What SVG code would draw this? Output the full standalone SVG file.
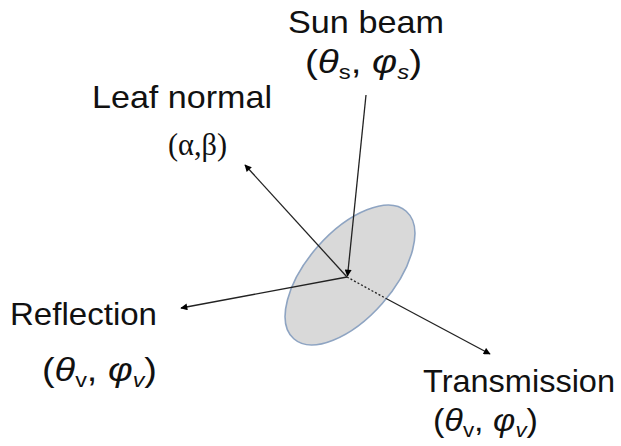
<svg xmlns="http://www.w3.org/2000/svg" width="621" height="446" viewBox="0 0 621 446">
<defs>
<marker id="ah" viewBox="0 0 10 10" refX="9" refY="5" markerWidth="8" markerHeight="7" markerUnits="userSpaceOnUse" orient="auto">
<path d="M0,0 L10,5 L0,10 z" fill="#000"/>
</marker>
</defs>
<style>
.lbl{font-family:"Liberation Sans",Arial,sans-serif;font-size:32px;fill:#111;}
.sym{font-family:"Liberation Sans",Arial,sans-serif;font-size:34px;fill:#111;}
.grk{font-family:"Liberation Serif","Times New Roman",serif;font-size:32px;fill:#111;}
.it{font-style:italic;}
.sub{font-size:21px;}
.ln{stroke:#222;stroke-width:1.3;fill:none;}
</style>
<g id="leaf">
<ellipse cx="350" cy="275" rx="85" ry="43" transform="rotate(-48.6 350 275)" fill="#d9d9d9" stroke="#8ea4c2" stroke-width="1.6"/>
</g>
<g id="connectors">
<line class="ln" x1="366" y1="95" x2="347.5" y2="276" marker-end="url(#ah)"/>
<line class="ln" x1="347" y1="277" x2="245" y2="165" marker-end="url(#ah)"/>
<line class="ln" x1="347" y1="277" x2="181" y2="308" marker-end="url(#ah)"/>
<line class="ln" x1="347" y1="277" x2="387" y2="299" stroke-dasharray="2 2"/>
<line class="ln" x1="387" y1="299" x2="490" y2="354" marker-end="url(#ah)"/>
</g>
<g id="sun">
<text class="lbl" x="288" y="33" textLength="156" lengthAdjust="spacingAndGlyphs">Sun beam</text>
<text class="sym" x="305" y="73" textLength="117" lengthAdjust="spacingAndGlyphs">(<tspan class="it">θ</tspan><tspan class="sub" dy="6">s</tspan><tspan dy="-6">, </tspan><tspan class="it">φ</tspan><tspan class="sub it" dy="6">s</tspan><tspan dy="-6">)</tspan></text>
</g>
<g id="normal">
<text class="lbl" x="92" y="108" textLength="180" lengthAdjust="spacingAndGlyphs">Leaf normal</text>
<text class="grk" x="168" y="155" textLength="59" lengthAdjust="spacingAndGlyphs">(α,β)</text>
</g>
<g id="reflection">
<text class="lbl" x="10" y="325" textLength="147" lengthAdjust="spacingAndGlyphs">Reflection</text>
<text class="sym" x="42" y="381" textLength="115" lengthAdjust="spacingAndGlyphs">(<tspan class="it">θ</tspan><tspan class="sub" dy="6">v</tspan><tspan dy="-6">, </tspan><tspan class="it">φ</tspan><tspan class="sub it" dy="6">v</tspan><tspan dy="-6">)</tspan></text>
</g>
<g id="transmission">
<text class="lbl" x="423" y="392" textLength="192" lengthAdjust="spacingAndGlyphs">Transmission</text>
<text class="sym" x="433" y="431" style="font-size:32px" textLength="105" lengthAdjust="spacingAndGlyphs">(<tspan class="it">θ</tspan><tspan class="sub" dy="6">v</tspan><tspan dy="-6">, </tspan><tspan class="it">φ</tspan><tspan class="sub it" dy="6">v</tspan><tspan dy="-6">)</tspan></text>
</g>
</svg>
